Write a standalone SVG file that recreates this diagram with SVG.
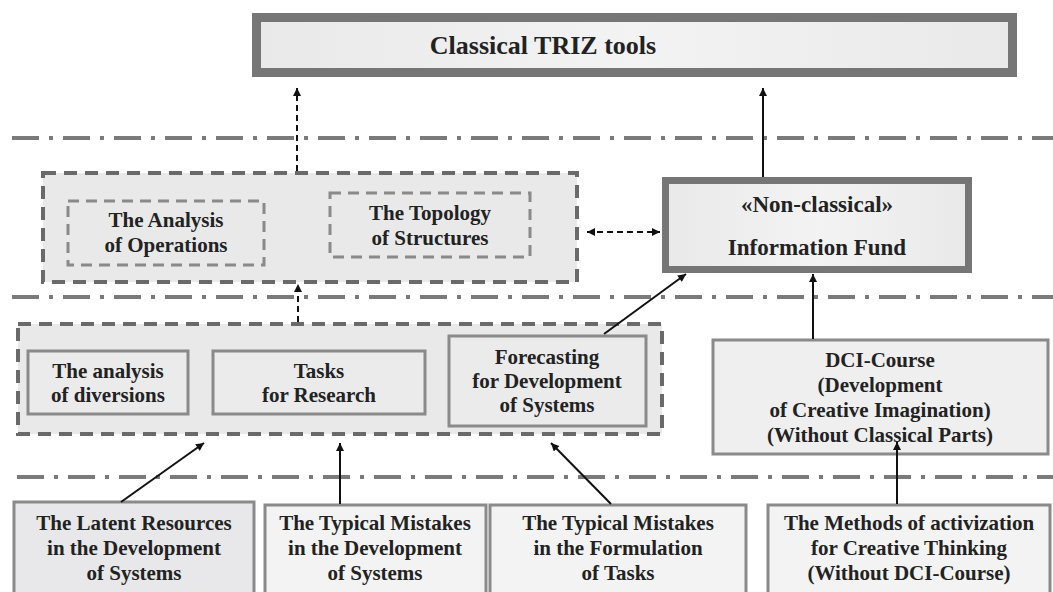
<svg xmlns="http://www.w3.org/2000/svg" width="1053" height="592" viewBox="0 0 1053 592">
  <defs>
    <linearGradient id="panel" x1="0" y1="0" x2="1" y2="0">
      <stop offset="0" stop-color="#e9e9ea"/>
      <stop offset="0.5" stop-color="#f3f3f3"/>
      <stop offset="1" stop-color="#e9e9ea"/>
    </linearGradient>
    <marker id="head" viewBox="0 0 10 10" refX="10" refY="5" markerWidth="9" markerHeight="8" markerUnits="userSpaceOnUse" orient="auto-start-reverse">
      <path d="M0,0 L10,5 L0,10 Z" fill="#111"/>
    </marker>
    <style>
      text { font-family: "Liberation Serif", "Times New Roman", serif; font-weight: bold; fill: #222; text-anchor: middle; }
      .t21 { font-size: 21px; }
      .t23 { font-size: 23px; }
      .t26 { font-size: 26px; }
      .level { stroke: #7a7a7a; stroke-width: 4; stroke-dasharray: 27 10 4 10; fill: none; }
      .group { fill: #e9e9ea; stroke: #6a6a6a; stroke-width: 4; stroke-dasharray: 13 8; }
      .sub { fill: none; stroke: #8a8a8a; stroke-width: 3; stroke-dasharray: 11 7; }
      .box { stroke: #8a8a8a; stroke-width: 3; }
      .heavy { fill: url(#panel); stroke: #767676; }
      .link { stroke: #111; stroke-width: 2; fill: none; marker-end: url(#head); }
      .dlink { stroke: #111; stroke-width: 2; fill: none; stroke-dasharray: 6 4; marker-end: url(#head); }
    </style>
  </defs>

  <rect width="1053" height="592" fill="#ffffff"/>

  <!-- level separators -->
  <g id="levels">
    <line class="level" x1="12" y1="138" x2="1053" y2="138"/>
    <line class="level" x1="12" y1="297" x2="1053" y2="297"/>
    <line class="level" x1="17" y1="477" x2="1053" y2="477"/>
  </g>

  <!-- top level -->
  <g id="classical-triz">
    <rect class="heavy" x="256.5" y="17.5" width="756" height="55" stroke-width="9"/>
    <text class="t26" x="543" y="54">Classical TRIZ tools</text>
  </g>

  <!-- second level -->
  <g id="analysis-group">
    <rect class="group" x="43" y="173" width="534" height="109"/>
  </g>
  <g id="analysis-operations">
    <rect class="sub" x="68" y="201" width="196" height="64"/>
    <text class="t21" x="166" y="227">The Analysis</text>
    <text class="t21" x="166" y="252">of Operations</text>
  </g>
  <g id="topology-structures">
    <rect class="sub" x="330" y="193" width="200" height="64"/>
    <text class="t21" x="430" y="220">The Topology</text>
    <text class="t21" x="430" y="245">of Structures</text>
  </g>
  <g id="information-fund">
    <rect class="heavy" x="665.5" y="180.5" width="303" height="89" stroke-width="7"/>
    <text class="t23" x="817" y="212">«Non-classical»</text>
    <text class="t23" x="817" y="255">Information Fund</text>
  </g>

  <!-- third level -->
  <g id="research-group">
    <rect class="group" x="18" y="324" width="644" height="110"/>
  </g>
  <g id="analysis-diversions">
    <rect class="box" x="28" y="351" width="160" height="63" fill="#ebebec"/>
    <text class="t21" x="108" y="378">The analysis</text>
    <text class="t21" x="108" y="402">of diversions</text>
  </g>
  <g id="tasks-research">
    <rect class="box" x="213" y="351" width="212" height="63" fill="#ebebec"/>
    <text class="t21" x="319" y="378">Tasks</text>
    <text class="t21" x="319" y="402">for Research</text>
  </g>
  <g id="forecasting">
    <rect class="box" x="449" y="336" width="197" height="90" fill="#ebebec"/>
    <text class="t21" x="547" y="364">Forecasting</text>
    <text class="t21" x="547" y="388">for Development</text>
    <text class="t21" x="547" y="412">of Systems</text>
  </g>
  <g id="dci-course">
    <rect class="box" x="713" y="340" width="335" height="114" fill="#efefef"/>
    <text class="t21" x="880" y="367">DCI-Course</text>
    <text class="t21" x="880" y="392">(Development</text>
    <text class="t21" x="880" y="417">of Creative Imagination)</text>
    <text class="t21" x="880" y="442">(Without Classical Parts)</text>
  </g>

  <!-- bottom level -->
  <g id="latent-resources">
    <rect class="box" x="14" y="502" width="240" height="100" fill="#e8e8ea"/>
    <text class="t21" x="134" y="530">The Latent Resources</text>
    <text class="t21" x="134" y="555">in the Development</text>
    <text class="t21" x="134" y="580">of Systems</text>
  </g>
  <g id="mistakes-development">
    <rect class="box" x="265" y="505" width="221" height="100" fill="#f3f3f3"/>
    <text class="t21" x="375" y="530">The Typical Mistakes</text>
    <text class="t21" x="375" y="555">in the Development</text>
    <text class="t21" x="375" y="580">of Systems</text>
  </g>
  <g id="mistakes-formulation">
    <rect class="box" x="490" y="505" width="256" height="100" fill="#f3f3f3"/>
    <text class="t21" x="618" y="530">The Typical Mistakes</text>
    <text class="t21" x="618" y="555">in the Formulation</text>
    <text class="t21" x="618" y="580">of Tasks</text>
  </g>
  <g id="activization-methods">
    <rect class="box" x="768" y="505" width="282" height="100" fill="#f3f3f3"/>
    <text class="t21" x="909" y="530">The Methods of activization</text>
    <text class="t21" x="909" y="555">for Creative Thinking</text>
    <text class="t21" x="909" y="580">(Without DCI-Course)</text>
  </g>

  <!-- connectors -->
  <g id="connectors">
    <line class="dlink" x1="297" y1="171" x2="297" y2="88"/>
    <line class="link" x1="763" y1="177" x2="763" y2="88"/>
    <line class="dlink" x1="587" y1="232" x2="660" y2="232" marker-start="url(#head)"/>
    <line class="dlink" x1="298" y1="322" x2="298" y2="284"/>
    <line class="link" x1="604" y1="334" x2="686" y2="274"/>
    <line class="link" x1="813" y1="339" x2="813" y2="274"/>
    <line class="link" x1="121" y1="502" x2="204" y2="443"/>
    <line class="link" x1="340" y1="504" x2="340" y2="443"/>
    <line class="link" x1="611" y1="504" x2="551" y2="443"/>
    <line class="link" x1="897" y1="504" x2="897" y2="442"/>
  </g>
</svg>
